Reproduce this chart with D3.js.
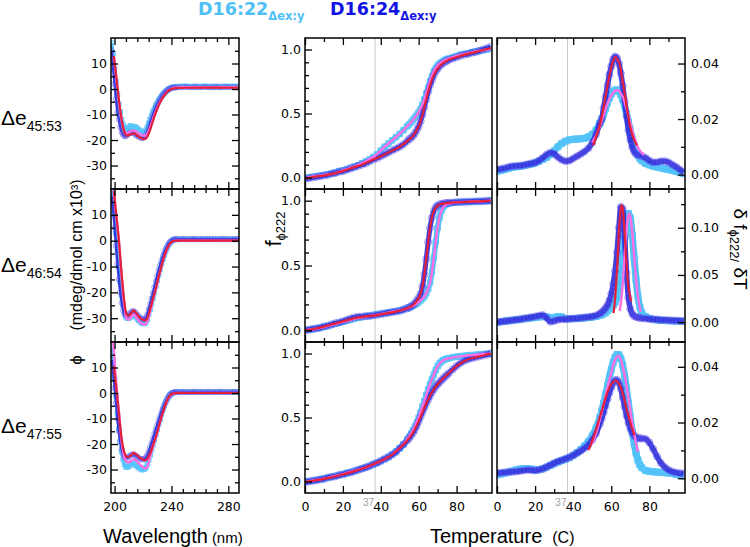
<!DOCTYPE html>
<html><head><meta charset="utf-8">
<script src="https://cdn.jsdelivr.net/npm/d3@7"></script>
<style>body{margin:0;background:#fff}svg{display:block}</style>
</head><body><svg id="c" width="750" height="547"></svg>
<script>
// ---------------- DATA ----------------
const cdWavelength = [198,199,200,201,202,203,204,205,206,207,208,209,210,211,212,213,214,215,216,217,218,219,220,221,222,223,224,225,226,227,228,229,230,231,232,233,234,235,236,237,238,239,240,241,242,243,244,
  246,248,250,252,254,256,258,260,262,264,266,268,270,272,274,276,278,280,282,284,286,288,290];
const cdD22Row1 = [18,14,8,3,-2,-6,-9,-12,-14,-15.5,-16,-15.8,-15,-14.5,-14.6,-15,-14.8,-15,-15.5,-16,-16.5,-17,-17,-16.8,-16.2,-15,-13.5,-12,-10.5,-9,-7.8,-6.5,-5.5,-4.5,-3.6,-2.8,-2.1,-1.5,-1,-0.5,-0.1,0.2,0.5,0.7,0.8,0.9,0.9,
  1.0,1.0,1.1,1.0,0.9,1.0,1.0,0.9,1.0,1.1,0.9,1.0,1.0,1.0,0.9,1.0,1.1,0.9,1.0,1.0,1.0,0.9,1.0];
const cdD24Row1 = [15,8,2,-4,-9,-12,-15,-17,-18,-18.5,-18.5,-18,-17.5,-17.2,-17,-17.2,-17.5,-18,-18.4,-18.7,-19,-19.2,-19.2,-18.8,-18,-16.8,-15.2,-13.5,-11.8,-10.2,-8.7,-7.3,-6.1,-5,-4,-3.1,-2.3,-1.6,-1,-0.5,-0.1,0.2,0.4,0.5,0.6,0.6,0.7,
  0.7,0.7,0.8,0.7,0.7,0.8,0.7,0.7,0.7,0.8,0.7,0.7,0.7,0.8,0.7,0.7,0.7,0.8,0.7,0.7,0.7,0.7,0.7];
const cdD22Row2 = [20,16,10,3,-4,-10,-16,-21,-25,-28,-29.5,-30,-30,-29.5,-29,-28.8,-29,-29.5,-30.2,-30.8,-31.3,-31.8,-32,-32,-31.5,-30.5,-28.5,-26.5,-24.5,-22.3,-20,-17.7,-15.4,-13.2,-11,-9,-7.2,-5.5,-4,-2.7,-1.6,-0.8,-0.2,0.2,0.4,0.5,0.5,
  0.5,0.6,0.5,0.5,0.6,0.5,0.5,0.5,0.6,0.5,0.5,0.5,0.6,0.5,0.5,0.5,0.6,0.5,0.5,0.5,0.5,0.6,0.5];
const cdD24Row2 = [17,12,5,-2,-9,-15,-20,-24,-27,-28.5,-29,-29,-28.5,-28,-27.5,-27.2,-27.5,-28,-28.7,-29.3,-29.8,-30.2,-30.4,-30.3,-29.8,-28.5,-26.5,-24.5,-22.3,-20.2,-18,-15.8,-13.6,-11.5,-9.5,-7.7,-6,-4.5,-3.2,-2.1,-1.2,-0.5,0,0.3,0.5,0.6,0.6,
  0.6,0.7,0.6,0.6,0.6,0.7,0.6,0.6,0.6,0.6,0.7,0.6,0.6,0.6,0.6,0.7,0.6,0.6,0.6,0.6,0.7,0.6,0.6];
const cdD22Row3 = [18,13,6,-1,-8,-14,-19,-23,-26,-28,-29,-29,-28.7,-28.2,-27.8,-27.5,-27.8,-28.3,-28.8,-29.2,-29.6,-30,-30,-29.8,-29.2,-28,-26.3,-24.3,-22.3,-20.3,-18.3,-16.3,-14.3,-12.3,-10.3,-8.4,-6.6,-5,-3.6,-2.4,-1.4,-0.7,-0.2,0.1,0.2,0.3,0.3,
  0.3,0.4,0.3,0.3,0.3,0.4,0.3,0.3,0.3,0.3,0.4,0.3,0.3,0.3,0.4,0.3,0.3,0.3,0.3,0.4,0.3,0.3,0.3];
const cdD24Row3 = [13,8,2,-4,-10,-15,-19,-22,-24,-25,-25.5,-25.3,-25,-24.5,-24.2,-24,-24.2,-24.6,-25,-25.4,-25.8,-26,-26,-25.8,-25.2,-24.2,-22.8,-21.2,-19.5,-17.8,-16,-14.3,-12.5,-10.8,-9.1,-7.5,-6,-4.6,-3.4,-2.3,-1.4,-0.7,-0.2,0.1,0.3,0.4,0.4,
  0.4,0.5,0.4,0.4,0.4,0.5,0.4,0.4,0.4,0.4,0.5,0.4,0.4,0.4,0.5,0.4,0.4,0.4,0.4,0.5,0.4,0.4,0.4];

const cdFitWl = [199.5,201,203,205,207,208.5,210,212,213.5,215,217,219,221,222,223,225,227,229,231,233,235,237,239,241,244,250,290];
const cdFitRedRow1 = [13,6,-4,-12,-17,-18.3,-18.1,-17.6,-17.4,-17.8,-18.7,-19.4,-19.6,-19.4,-18.8,-16,-12.5,-9.3,-6.5,-4.2,-2.5,-1.2,-0.3,0.2,0.4,0.5,0.5];
const cdFitMagRow1 = [12.5,5.5,-4.5,-12,-16.5,-17.4,-17,-16.4,-16.2,-16.6,-17.4,-18,-18.3,-18.2,-17.6,-15,-11.8,-8.8,-6.2,-4,-2.3,-1,-0.2,0.3,0.6,0.7,0.7];
const cdFitRedRow2 = [19.3,11,0.5,-13,-24,-28.5,-29,-27.8,-27,-27.8,-29.3,-30.3,-30.8,-30.7,-30,-26.5,-22.5,-18.5,-14,-9.8,-6,-3,-1,-0.2,0,0,0];
const cdFitMagRow2 = [19.5,11,0,-14,-25.5,-30,-30.5,-29.3,-28.5,-29.5,-31,-32,-32.5,-32.2,-31.3,-27.5,-23,-18.8,-14.2,-10,-6.2,-3.2,-1.2,-0.3,0,0,0];
const cdFitRedRow3 = [10.6,3,-7.5,-18,-23.5,-25,-25,-24.2,-23.5,-24,-25,-25.8,-26.3,-26.3,-25.8,-23.7,-20.5,-17.3,-13.2,-9.3,-5.8,-2.8,-0.9,-0.2,0,0,0];
const cdFitMagWlRow3 = [198,199.5,201,203,205,207,208.5,210,212,213.5,215,217,219,221,222,223,225,227,229,231,233,235,237,239,241,244,250,290];
const cdFitMagRow3 = [25,17,5,-7,-19,-25.5,-27,-27.2,-26.4,-26,-26.5,-27.5,-28.7,-29.5,-29.6,-29,-25,-21,-17.5,-13.5,-9.5,-6,-3,-1,-0.3,0,0,0];

const tempGrid = [0,2,4,6,8,10,12,14,16,18,20,22,24,26,28,30,32,34,36,38,40,42,44,46,48,50,52,54,
  55,56,57,58,59,60,61,62,63,64,65,66,67,68,69,70,71,72,73,74,75,76,
  78,80,82,84,86,88,90,92,94,96,98];

const meltD24Row1 = [-0.01,-0.005,0,0.005,0.01,0.015,0.02,0.03,0.035,0.045,0.05,0.06,0.07,0.08,0.09,0.1,0.11,0.125,0.14,0.15,0.165,0.18,0.195,0.21,0.225,0.24,0.26,0.285,
  0.3,0.31,0.325,0.345,0.37,0.4,0.44,0.49,0.55,0.61,0.67,0.72,0.76,0.8,0.83,0.85,0.87,0.885,0.895,0.905,0.912,0.92,
  0.93,0.94,0.95,0.96,0.965,0.975,0.98,0.99,1.0,1.01,1.02];
const meltD22Row1 = [-0.005,0,0.005,0.01,0.015,0.02,0.025,0.03,0.04,0.05,0.055,0.065,0.075,0.085,0.095,0.11,0.125,0.14,0.16,0.18,0.21,0.24,0.265,0.29,0.315,0.34,0.37,0.4,
  0.415,0.43,0.45,0.47,0.49,0.51,0.535,0.57,0.61,0.655,0.7,0.75,0.79,0.83,0.855,0.875,0.89,0.9,0.91,0.92,0.925,0.93,
  0.94,0.95,0.96,0.965,0.97,0.978,0.985,0.99,0.995,1.0,1.005];
const meltD24Row2 = [0,0.005,0.01,0.015,0.02,0.03,0.035,0.045,0.055,0.06,0.07,0.08,0.09,0.1,0.105,0.105,0.11,0.11,0.115,0.12,0.125,0.13,0.135,0.14,0.145,0.15,0.16,0.17,
  0.175,0.185,0.195,0.21,0.23,0.25,0.28,0.34,0.43,0.55,0.68,0.79,0.87,0.92,0.95,0.962,0.97,0.975,0.978,0.98,0.982,0.984,
  0.986,0.988,0.99,0.991,0.992,0.993,0.994,0.995,0.996,0.998,1.0];
const meltD22Row2 = [0,0.004,0.009,0.014,0.02,0.027,0.034,0.042,0.05,0.058,0.066,0.074,0.082,0.09,0.097,0.103,0.108,0.113,0.118,0.123,0.128,0.133,0.138,0.143,0.148,0.154,0.162,0.172,
  0.177,0.183,0.19,0.198,0.207,0.218,0.23,0.245,0.262,0.285,0.32,0.37,0.45,0.56,0.68,0.79,0.87,0.92,0.95,0.966,0.974,0.979,
  0.985,0.987,0.989,0.99,0.991,0.992,0.994,0.995,0.997,0.998,1.0];
const meltD24Row3 = [-0.005,0,0.005,0.01,0.015,0.02,0.03,0.035,0.04,0.05,0.055,0.065,0.07,0.08,0.09,0.1,0.11,0.12,0.135,0.145,0.16,0.175,0.19,0.21,0.23,0.26,0.29,0.32,
  0.34,0.36,0.38,0.405,0.435,0.47,0.505,0.54,0.575,0.61,0.64,0.67,0.697,0.72,0.742,0.76,0.776,0.791,0.806,0.82,0.834,0.848,
  0.876,0.902,0.925,0.942,0.954,0.963,0.97,0.978,0.985,0.992,1.0];
const meltD22Row3 = [-0.003,0.002,0.007,0.012,0.017,0.023,0.03,0.037,0.043,0.05,0.057,0.065,0.073,0.082,0.091,0.1,0.11,0.121,0.133,0.146,0.16,0.176,0.193,0.212,0.234,0.26,0.29,0.33,
  0.35,0.375,0.4,0.43,0.46,0.5,0.54,0.585,0.63,0.675,0.72,0.76,0.8,0.835,0.87,0.9,0.922,0.938,0.948,0.955,0.96,0.964,
  0.97,0.975,0.979,0.982,0.985,0.988,0.99,0.993,0.995,0.998,1.0];

const meltFitT = [0,5,10,15,20,25,30,37,42,46,50,54,57,60,62,64,66,68,70,73,76,80,85,90,95,98];
const meltFitRedRow1 = [-0.01,0.005,0.015,0.03,0.05,0.075,0.1,0.145,0.18,0.21,0.24,0.285,0.325,0.4,0.49,0.61,0.72,0.8,0.85,0.895,0.92,0.94,0.962,0.98,1.0,1.012];
const meltFitMagRow1 = [-0.005,0.01,0.02,0.03,0.055,0.08,0.11,0.17,0.24,0.29,0.34,0.4,0.45,0.51,0.57,0.655,0.75,0.83,0.875,0.91,0.93,0.95,0.968,0.985,0.997,1.003];
const meltFitRedTRow2 = [0,5,10,15,20,25,28,32,37,42,47,52,56,58,60,61,62,63,64,65,66,67,68,70,73,78,85,92,98];
const meltFitRedRow2 = [0,0.012,0.03,0.05,0.07,0.09,0.1,0.108,0.115,0.128,0.14,0.16,0.185,0.21,0.25,0.28,0.34,0.43,0.55,0.68,0.79,0.87,0.92,0.962,0.978,0.986,0.991,0.995,1.0];
const meltFitMagTRow2 = [0,5,10,15,20,25,28,32,37,42,47,52,56,58,60,62,63,64,65,66,67,68,69,70,71,72,74,78,85,92,98];
const meltFitMagRow2 = [0,0.01,0.025,0.045,0.065,0.085,0.095,0.105,0.116,0.13,0.145,0.16,0.183,0.198,0.218,0.245,0.262,0.285,0.32,0.37,0.45,0.56,0.68,0.79,0.87,0.92,0.966,0.985,0.991,0.995,1.0];
const meltFitRedRow3 = [-0.005,0.008,0.02,0.037,0.055,0.075,0.1,0.14,0.175,0.21,0.26,0.32,0.38,0.47,0.54,0.61,0.67,0.72,0.76,0.806,0.848,0.902,0.948,0.97,0.988,1.0];
const meltFitMagRow3 = [-0.003,0.01,0.022,0.04,0.058,0.078,0.1,0.14,0.175,0.212,0.26,0.33,0.4,0.5,0.585,0.675,0.76,0.835,0.9,0.948,0.962,0.974,0.983,0.99,0.996,1.0];

const derD24Row1 = [0.0018,0.002,0.0023,0.0027,0.003,0.0031,0.0032,0.0034,0.0037,0.004,0.0043,0.005,0.006,0.0072,0.0079,0.0075,0.0063,0.0053,0.0048,0.005,0.0058,0.0066,0.0074,0.0083,0.0095,0.0115,0.0145,0.0185,
  0.02,0.024,0.028,0.032,0.036,0.039,0.0415,0.0425,0.042,0.04,0.0365,0.032,0.0265,0.021,0.016,0.0125,0.0098,0.0082,0.0074,0.0071,0.0069,0.0067,
  0.006,0.005,0.0044,0.0044,0.0048,0.0048,0.0044,0.0036,0.0028,0.0018,0.0008];
const derD22Row1 = [0.0012,0.0015,0.0018,0.0022,0.0026,0.0028,0.003,0.0032,0.0035,0.0038,0.0042,0.0048,0.0055,0.0062,0.0072,0.0085,0.01,0.0112,0.012,0.0125,0.0127,0.0128,0.0129,0.0131,0.0136,0.0145,0.016,0.0185,
  0.02,0.0218,0.0238,0.0258,0.0276,0.029,0.0299,0.0304,0.0305,0.03,0.0288,0.027,0.0247,0.022,0.019,0.016,0.013,0.0105,0.0085,0.007,0.0058,0.005,
  0.004,0.0035,0.003,0.0027,0.0024,0.0021,0.0018,0.0015,0.0011,0.0007,0.0003];
const derD24Row2 = [0,0.0005,0.001,0.0015,0.002,0.0025,0.003,0.0038,0.0045,0.0052,0.006,0.0068,0.0075,0.0045,0.0005,0.0012,0.0025,0.003,0.0032,0.0035,0.0038,0.004,0.0045,0.005,0.0055,0.006,0.0072,0.009,
  0.0105,0.0125,0.015,0.018,0.023,0.03,0.04,0.054,0.074,0.1,0.122,0.12,0.09,0.052,0.026,0.014,0.009,0.0065,0.0055,0.005,0.0045,0.0042,
  0.0038,0.0034,0.003,0.0027,0.0024,0.0022,0.002,0.0018,0.0016,0.0014,0.0012];
const derD22Row2 = [0,0.0005,0.001,0.0015,0.002,0.0025,0.003,0.0035,0.004,0.0045,0.005,0.0055,0.006,0.0058,0.0045,0.005,0.006,0.0055,0.0035,0.0035,0.0038,0.004,0.0042,0.0045,0.005,0.0055,0.006,0.007,
  0.008,0.009,0.01,0.012,0.014,0.016,0.018,0.021,0.026,0.034,0.047,0.066,0.088,0.106,0.115,0.11,0.092,0.068,0.045,0.027,0.016,0.01,
  0.006,0.004,0.003,0.0025,0.002,0.0018,0.0016,0.0014,0.0012,0.001,0.0008];
const derD24Row3 = [0.0018,0.002,0.0021,0.0022,0.0023,0.0024,0.0026,0.0028,0.003,0.0029,0.0028,0.003,0.0034,0.004,0.0047,0.0054,0.006,0.0065,0.007,0.0075,0.0082,0.009,0.0098,0.0108,0.012,0.0138,0.016,0.0195,
  0.0215,0.0237,0.026,0.0284,0.0306,0.0326,0.0342,0.0352,0.0353,0.0343,0.0322,0.029,0.0257,0.0225,0.0198,0.0178,0.0163,0.0153,0.0147,0.0144,0.0143,0.0143,
  0.0141,0.0128,0.0105,0.0078,0.0055,0.004,0.003,0.0024,0.002,0.0018,0.0017];
const derD22Row3 = [0.0012,0.0015,0.0018,0.0022,0.0026,0.003,0.0033,0.0035,0.0035,0.0033,0.003,0.0031,0.0034,0.004,0.0046,0.0052,0.0058,0.0063,0.0068,0.0074,0.0082,0.0092,0.0103,0.0116,0.0132,0.0152,0.018,0.0218,
  0.0242,0.027,0.03,0.0331,0.0362,0.0391,0.0416,0.0434,0.0444,0.0443,0.043,0.0405,0.0368,0.0322,0.027,0.0218,0.0168,0.0125,0.009,0.0065,0.0048,0.0038,
  0.0028,0.0025,0.0023,0.0022,0.0021,0.002,0.0019,0.0017,0.0014,0.0011,0.0008];

const derFitRedTRow1 = [50.5,52,54,56,58,60,62,64,66,68,70,72,73.5];
const derFitRedRow1 = [0.0105,0.0135,0.018,0.0245,0.032,0.0385,0.0423,0.0405,0.0335,0.025,0.017,0.0125,0.0105];
const derFitMagTRow1 = [50,52,54,56,58,60,62,63,64,66,68,70,72,74,76,77.3];
const derFitMagRow1 = [0.0115,0.014,0.0175,0.0215,0.0255,0.0285,0.0302,0.0305,0.0302,0.028,0.0237,0.0185,0.0135,0.0098,0.0078,0.0071];
const derFitRedTRow2 = [61.2,62,63,64,65,65.5,66,67,68,69,70,70.5];
const derFitRedRow2 = [0.0095,0.025,0.055,0.095,0.12,0.124,0.12,0.095,0.062,0.038,0.026,0.022];
const derFitMagTRow2 = [64.5,65.5,66.5,67.5,68.5,69.3,70,71,72,73,74,75,75.5];
const derFitMagRow2 = [0.012,0.028,0.055,0.085,0.107,0.115,0.112,0.095,0.07,0.046,0.027,0.015,0.011];
const derFitRedTRow3 = [48,50,52,54,56,58,60,62,64,66,68,70,72];
const derFitRedRow3 = [0.0101,0.0135,0.0175,0.022,0.0265,0.0308,0.0338,0.035,0.034,0.0305,0.025,0.02,0.0155];
const derFitMagTRow3 = [50,52,54,56,58,60,62,63.5,65,67,69,71,73,74];
const derFitMagRow3 = [0.0125,0.016,0.021,0.0265,0.0325,0.038,0.0425,0.044,0.0425,0.037,0.029,0.02,0.0125,0.0095];

const rowLabels = ["45:53","46:54","47:55"];
const cdXTicks = [200,240,280], cdXMinor = [208,216,224,232,248,256,264,272];
const cdYTicks = [-30,-20,-10,0,10], cdYMinor = [-35,-25,-15,-5,5,15];
const tXTicks = [0,20,40,60,80], tXMinor = [10,30,50,70,90];
const meltYTicks = [0,0.5,1.0], meltYMinor = [0.1,0.2,0.3,0.4,0.6,0.7,0.8,0.9];
const derYTicks = [[0,0.02,0.04],[0,0.05,0.10],[0,0.02,0.04]];
const derYMinor = [[0.01,0.03],[0.025,0.075,0.125],[0.01,0.03]];
const refTemp = 37;

// ---------------- DRAWING ----------------
const svg = d3.select('#c');
const COL = {cyan:'#4fc0f6', cyanM:'#58c6fb', blue:'#2a2ad8', circ:'rgba(95,80,235,0.55)', mag:'#ff6de3', red:'#e3203a', title2:'#1212e6'};
const FONT = 'Liberation Sans, Arial, sans-serif';
const TFONT = 'DejaVu Sans, sans-serif';
const rowsY = [[38,189],[189,342],[342,493]];
const cols = {cd:[111,239], melt:[305,492], der:[497,685]};
let clipN = 0;
const defs = svg.append('defs');
const intFmt = d => String(d);

function zip(xs, ys){ const n=Math.min(xs.length, ys.length); const o=[]; for(let i=0;i<n;i++) o.push([xs[i],ys[i]]); return o; }

function axis(g, gen, tx, ty, vals, size, fmt, pad){
  const a = g.append('g').attr('transform',`translate(${tx},${ty})`)
    .call(gen.tickValues(vals).tickSize(-size).tickPadding(pad||4).tickFormat(fmt||''));
  a.select('.domain').remove();
  a.attr('font-family', TFONT).attr('font-size', 12.5);
  a.selectAll('line').attr('stroke','#000').attr('stroke-width',1.3);
  a.selectAll('text').attr('fill','#000');
  return a;
}

function panel(o){
  const [x0,x1] = cols[o.col], [y0,y1] = rowsY[o.row];
  const x = d3.scaleLinear().domain(o.xDomain).range([x0,x1]);
  const y = d3.scaleLinear().domain(o.yDomain).range([y1,y0]);
  const id = 'cl'+(clipN++);
  defs.append('clipPath').attr('id',id).append('rect').attr('x',x0).attr('y',y0).attr('width',x1-x0).attr('height',y1-y0);
  const g = svg.append('g');
  const pg = g.append('g').attr('clip-path',`url(#${id})`);
  if(o.vline!==undefined){
    pg.append('line').attr('x1',x(o.vline)).attr('x2',x(o.vline)).attr('y1',y0).attr('y2',y1)
      .attr('stroke','#c8c8c8').attr('stroke-width',1);
  }
  const line = d3.line().x(d=>x(d[0])).y(d=>y(d[1]));
  const c = zip(o.xs, o.cyan);
  pg.append('path').datum(c).attr('d', line.curve(d3.curveMonotoneX)).attr('fill','none')
    .attr('stroke',COL.cyan).attr('stroke-width',o.bw[0]).attr('stroke-linejoin','round');
  const sq = d3.symbol().type(d3.symbolSquare).size(o.ms*o.ms);
  pg.selectAll(null).data(c).join('path').attr('d',sq).attr('transform',d=>`translate(${x(d[0])},${y(d[1])})`)
    .attr('fill','none').attr('stroke',COL.cyanM).attr('stroke-width',1);
  const b = zip(o.xs, o.blue);
  pg.append('path').datum(b).attr('d', line.curve(d3.curveMonotoneX)).attr('fill','none')
    .attr('stroke',COL.blue).attr('stroke-width',o.bw[1]).attr('stroke-linejoin','round').attr('opacity',0.9);
  pg.selectAll(null).data(b).join('circle').attr('cx',d=>x(d[0])).attr('cy',d=>y(d[1])).attr('r',o.mr)
    .attr('fill','none').attr('stroke',COL.circ).attr('stroke-width',1);
  const fl = d3.line().x(d=>x(d[0])).y(d=>y(d[1])).curve(d3.curveCatmullRom.alpha(0.5));
  pg.append('path').datum(zip(o.magX,o.mag)).attr('d',fl).attr('fill','none').attr('stroke',COL.mag).attr('stroke-width',2.4);
  pg.append('path').datum(zip(o.redX,o.red)).attr('d',fl).attr('fill','none').attr('stroke',COL.red).attr('stroke-width',2.2);
  g.append('rect').attr('x',x0).attr('y',y0).attr('width',x1-x0).attr('height',y1-y0)
    .attr('fill','none').attr('stroke','#000').attr('stroke-width',1.5);
  axis(g, d3.axisTop(x), 0, y0, o.xMajor, 7);
  axis(g, d3.axisTop(x), 0, y0, o.xMinor, 4);
  const bx = axis(g, d3.axisBottom(x), 0, y1, o.xMajor, 7, o.showX ? intFmt : '', 5);
  axis(g, d3.axisBottom(x), 0, y1, o.xMinor, 4);
  if(o.showX) bx.selectAll('text').attr('dy','1em');
  if(o.col==='der'){
    axis(g, d3.axisRight(y), x1, 0, o.yMajor, 7, o.yFmt, 6);
    axis(g, d3.axisRight(y), x1, 0, o.yMinor, 4);
  } else {
    axis(g, d3.axisLeft(y), x0, 0, o.yMajor, 7, o.yFmt, 4);
    axis(g, d3.axisLeft(y), x0, 0, o.yMinor, 4);
    if(o.col==='cd'){
      axis(g, d3.axisRight(y), x1, 0, o.yMajor, 7);
      axis(g, d3.axisRight(y), x1, 0, o.yMinor, 4);
    }
  }
  if(o.showX && o.vline!==undefined){
    g.append('text').attr('x',x(o.vline)-1).attr('y',506).attr('text-anchor','end')
      .attr('font-family',FONT).attr('font-size',10).attr('fill','#a0a0a0').text(String(o.vline));
  }
}

const cdData = [[cdD22Row1,cdD24Row1],[cdD22Row2,cdD24Row2],[cdD22Row3,cdD24Row3]];
const cdFits = [[cdFitWl,cdFitMagRow1,cdFitWl,cdFitRedRow1],[cdFitWl,cdFitMagRow2,cdFitWl,cdFitRedRow2],[cdFitMagWlRow3,cdFitMagRow3,cdFitWl,cdFitRedRow3]];
const meltData = [[meltD22Row1,meltD24Row1],[meltD22Row2,meltD24Row2],[meltD22Row3,meltD24Row3]];
const meltFits = [[meltFitT,meltFitMagRow1,meltFitT,meltFitRedRow1],[meltFitMagTRow2,meltFitMagRow2,meltFitRedTRow2,meltFitRedRow2],[meltFitT,meltFitMagRow3,meltFitT,meltFitRedRow3]];
const derData = [[derD22Row1,derD24Row1],[derD22Row2,derD24Row2],[derD22Row3,derD24Row3]];
const derFits = [[derFitMagTRow1,derFitMagRow1,derFitRedTRow1,derFitRedRow1],[derFitMagTRow2,derFitMagRow2,derFitRedTRow2,derFitRedRow2],[derFitMagTRow3,derFitMagRow3,derFitRedTRow3,derFitRedRow3]];
const derDomains = [[-0.0052,0.0492],[-0.021,0.141],[-0.0053,0.0489]];

for(let r=0;r<3;r++){
  const last = r===2;
  panel({col:'cd',row:r,xDomain:[197.5,287.5],yDomain:[-39.2,20],xs:cdWavelength,cyan:cdData[r][0],blue:cdData[r][1],
    magX:cdFits[r][0],mag:cdFits[r][1],redX:cdFits[r][2],red:cdFits[r][3],bw:[3,2.5],ms:4.5,mr:2.6,
    xMajor:cdXTicks,xMinor:cdXMinor,yMajor:cdYTicks,yMinor:cdYMinor,yFmt:intFmt,showX:last});
  panel({col:'melt',row:r,xDomain:[0,98.7],yDomain:[-0.09,1.09],xs:tempGrid,cyan:meltData[r][0],blue:meltData[r][1],
    magX:meltFits[r][0],mag:meltFits[r][1],redX:meltFits[r][2],red:meltFits[r][3],bw:[5.5,5],ms:5.5,mr:3.6,vline:refTemp,
    xMajor:tXTicks,xMinor:tXMinor,yMajor:meltYTicks,yMinor:meltYMinor,yFmt:d3.format('.1f'),showX:last});
  panel({col:'der',row:r,xDomain:[0,98.7],yDomain:derDomains[r],xs:tempGrid,cyan:derData[r][0],blue:derData[r][1],
    magX:derFits[r][0],mag:derFits[r][1],redX:derFits[r][2],red:derFits[r][3],bw:[7,5.5],ms:6,mr:3.6,vline:refTemp,
    xMajor:tXTicks,xMinor:tXMinor,yMajor:derYTicks[r],yMinor:derYMinor[r],yFmt:d3.format('.2f'),showX:last});
}

// ---------------- TEXT ----------------
const t1 = svg.append('text').attr('x',198).attr('y',15).attr('font-family',TFONT).attr('font-weight','bold').attr('fill',COL.cyan);
t1.append('tspan').attr('font-size',17.5).text('D16:22');
t1.append('tspan').attr('font-size',11.5).attr('dy',5).text('Δex:y');
const t2 = svg.append('text').attr('x',330).attr('y',15).attr('font-family',TFONT).attr('font-weight','bold').attr('fill',COL.title2);
t2.append('tspan').attr('font-size',17.5).text('D16:24');
t2.append('tspan').attr('font-size',11.5).attr('dy',5).text('Δex:y');

const rowBase = [125,272,433];
rowLabels.forEach((lab,i)=>{
  const t = svg.append('text').attr('x',1).attr('y',rowBase[i]).attr('font-family',FONT).attr('fill','#000');
  t.append('tspan').attr('font-size',21).text('Δe');
  t.append('tspan').attr('font-size',14).attr('dy',6).text(lab);
});

svg.append('text').attr('transform','translate(82,255) rotate(-90)').attr('text-anchor','middle')
  .attr('font-family',FONT).attr('font-size',16).text('(mdeg/dmol cm x10³)');
svg.append('text').attr('transform','translate(82,360) rotate(-90)').attr('text-anchor','middle')
  .attr('font-family',FONT).attr('font-size',17).text('ϕ');

const fl = svg.append('text').attr('transform','translate(281,229) rotate(-90)').attr('text-anchor','middle').attr('font-family',FONT);
fl.append('tspan').attr('font-size',22).text('f');
fl.append('tspan').attr('font-size',13).attr('dy',4).text('ϕ222');

const dl = svg.append('text').attr('transform','translate(734,249) rotate(90)').attr('text-anchor','middle').attr('font-family',FONT);
dl.append('tspan').attr('font-size',19).text('δ f');
dl.append('tspan').attr('font-size',13).attr('dy',4).text('ϕ222/');
dl.append('tspan').attr('font-size',19).attr('dy',-4).text(' δT');

const wl = svg.append('text').attr('x',103).attr('y',543).attr('font-family',FONT);
wl.append('tspan').attr('font-size',20).text('Wavelength');
wl.append('tspan').attr('font-size',15).attr('dx',4).text('(nm)');
const tl = svg.append('text').attr('x',430).attr('y',543).attr('font-family',FONT);
tl.append('tspan').attr('font-size',20).text('Temperature');
tl.append('tspan').attr('font-size',16).attr('dx',10).text('(C)');
</script></body></html>
